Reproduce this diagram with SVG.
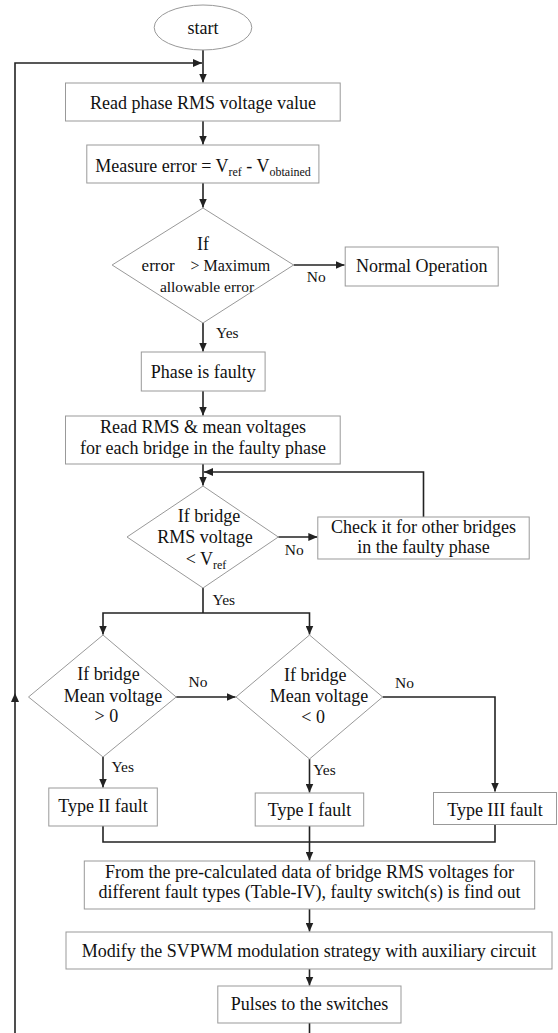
<svg xmlns="http://www.w3.org/2000/svg" width="558" height="1033" viewBox="0 0 558 1033">
<style>
.s{fill:#fff;stroke:#999;stroke-width:1}
.c{fill:none;stroke:#222;stroke-width:1.6}
text{font-family:"Liberation Serif","Times New Roman",serif;fill:#111;font-size:18px}
.m{text-anchor:middle}
.sm{font-size:15.5px}
.sub{font-size:12px}
</style>
<defs>
<marker id="ah" markerUnits="userSpaceOnUse" markerWidth="9" markerHeight="8" refX="9" refY="4" orient="auto">
<path d="M0,0 L9,4 L0,8 z" fill="#222"/>
</marker>
</defs>
<rect width="558" height="1033" fill="#fff"/>
<g id="connectors">
<path class="c" d="M203,50 V82.5" marker-end="url(#ah)"/>
<path class="c" d="M15,1033 V693" marker-end="url(#ah)"/>
<path class="c" d="M15,693 V63 H202" marker-end="url(#ah)"/>
<path class="c" d="M203,121 V144.5" marker-end="url(#ah)"/>
<path class="c" d="M203,183 V207.5" marker-end="url(#ah)"/>
<path class="c" d="M293.6,265 H344.5" marker-end="url(#ah)"/>
<path class="c" d="M203,323 V351.5" marker-end="url(#ah)"/>
<path class="c" d="M203,391 V415.5" marker-end="url(#ah)"/>
<path class="c" d="M203,464 V485.5" marker-end="url(#ah)"/>
<path class="c" d="M423.5,517 V472 H204" marker-end="url(#ah)"/>
<path class="c" d="M278.3,537 H317.3" marker-end="url(#ah)"/>
<path class="c" d="M203,588 V613"/>
<path class="c" d="M203,613 H103 V634.5" marker-end="url(#ah)"/>
<path class="c" d="M203,613 H309.5 V634.5" marker-end="url(#ah)"/>
<path class="c" d="M176.2,697 H235.5" marker-end="url(#ah)"/>
<path class="c" d="M103,757 V787.5" marker-end="url(#ah)"/>
<path class="c" d="M309.5,759 V792.5" marker-end="url(#ah)"/>
<path class="c" d="M382.6,697 H495 V791.5" marker-end="url(#ah)"/>
<path class="c" d="M103,826 V842 H495 V824"/>
<path class="c" d="M309.5,826 V860.5" marker-end="url(#ah)"/>
<path class="c" d="M309.5,909 V931.5" marker-end="url(#ah)"/>
<path class="c" d="M309.5,969 V985.5" marker-end="url(#ah)"/>
<path class="c" d="M309.5,1023 V1033"/>
<text class="sm" x="306.8" y="282">No</text>
<text class="sm" x="216" y="338">Yes</text>
<text class="sm" x="284.7" y="555">No</text>
<text class="sm" x="212.5" y="605">Yes</text>
<text class="sm" x="188.6" y="687">No</text>
<text class="sm" x="395" y="688">No</text>
<text class="sm" x="111.4" y="772">Yes</text>
<text class="sm" x="313.2" y="775">Yes</text>
</g>
<g id="start">
<ellipse class="s" cx="203" cy="27.5" rx="48.8" ry="22.5"/>
<text class="m" x="203" y="33.5">start</text>
</g>
<g id="read-phase">
<rect class="s" x="65.5" y="83" width="274.7" height="38"/>
<text class="m" x="203" y="109">Read phase RMS voltage value</text>
</g>
<g id="measure-error">
<rect class="s" x="86.8" y="145" width="232.1" height="38"/>
<text class="m" x="203" y="172">Measure error = V<tspan class="sub" dy="4">ref</tspan><tspan dy="-4"> - V</tspan><tspan class="sub" dy="4">obtained</tspan></text>
</g>
<g id="decision-error">
<polygon class="s" points="203,208 293.6,265 203,323 112.1,265"/>
<text class="m" x="203" y="250">If</text>
<text x="141.6" y="271" style="font-size:17px">error</text>
<text x="190.4" y="271" style="font-size:16px">&gt; Maximum</text>
<text class="m" x="207" y="292" style="font-size:15.5px">allowable error</text>
</g>
<g id="normal-operation">
<rect class="s" x="345.2" y="247" width="153" height="39"/>
<text class="m" x="421.7" y="272">Normal Operation</text>
</g>
<g id="phase-faulty">
<rect class="s" x="141.3" y="352" width="123.8" height="39"/>
<text class="m" x="203.2" y="378">Phase is faulty</text>
</g>
<g id="read-rms-mean">
<rect class="s" x="65.5" y="416" width="274.7" height="48"/>
<text class="m" x="203" y="433">Read RMS &amp; mean voltages</text>
<text class="m" x="203" y="454">for each bridge in the faulty phase</text>
</g>
<g id="decision-rms">
<polygon class="s" points="203,486 278.3,537 203,588 127,537"/>
<text class="m" x="209" y="522">If  bridge</text>
<text class="m" x="205" y="543">RMS voltage</text>
<text class="m" x="206" y="565">&lt; V<tspan class="sub" dy="4">ref</tspan></text>
</g>
<g id="check-other">
<rect class="s" x="317.8" y="517" width="211.4" height="42"/>
<text class="m" x="423.5" y="533">Check it for other bridges</text>
<text class="m" x="423.5" y="553">in the faulty phase</text>
</g>
<g id="decision-mean-pos">
<polygon class="s" points="103,635 176.2,697 103,757 28.5,697"/>
<text class="m" x="108.5" y="680">If bridge</text>
<text class="m" x="113" y="702">Mean voltage</text>
<text class="m" x="106.4" y="722">&gt; 0</text>
</g>
<g id="decision-mean-neg">
<polygon class="s" points="309.5,635 382.6,697 309.5,759 236,697"/>
<text class="m" x="315.3" y="681">If bridge</text>
<text class="m" x="319" y="702">Mean voltage</text>
<text class="m" x="313.2" y="723">&lt; 0</text>
</g>
<g id="type-ii">
<rect class="s" x="48.8" y="788" width="108.5" height="38"/>
<text class="m" x="103" y="812">Type II fault</text>
</g>
<g id="type-i">
<rect class="s" x="255.2" y="793" width="108.5" height="33"/>
<text class="m" x="309.5" y="816">Type I fault</text>
</g>
<g id="type-iii">
<rect class="s" x="433.5" y="792.5" width="123" height="32"/>
<text class="m" x="495" y="816">Type III fault</text>
</g>
<g id="precalculated">
<rect class="s" x="84.3" y="861" width="450.4" height="48"/>
<text class="m" x="309.5" y="878">From the pre-calculated data of bridge RMS voltages for</text>
<text class="m" x="309.5" y="898">different fault types (Table-IV), faulty switch(s) is find out</text>
</g>
<g id="modify-svpwm">
<rect class="s" x="66" y="932" width="486" height="37"/>
<text class="m" x="309" y="957">Modify the SVPWM modulation strategy with auxiliary circuit</text>
</g>
<g id="pulses">
<rect class="s" x="217.8" y="986" width="183.2" height="37"/>
<text class="m" x="309.4" y="1010">Pulses to the switches</text>
</g>
</svg>
